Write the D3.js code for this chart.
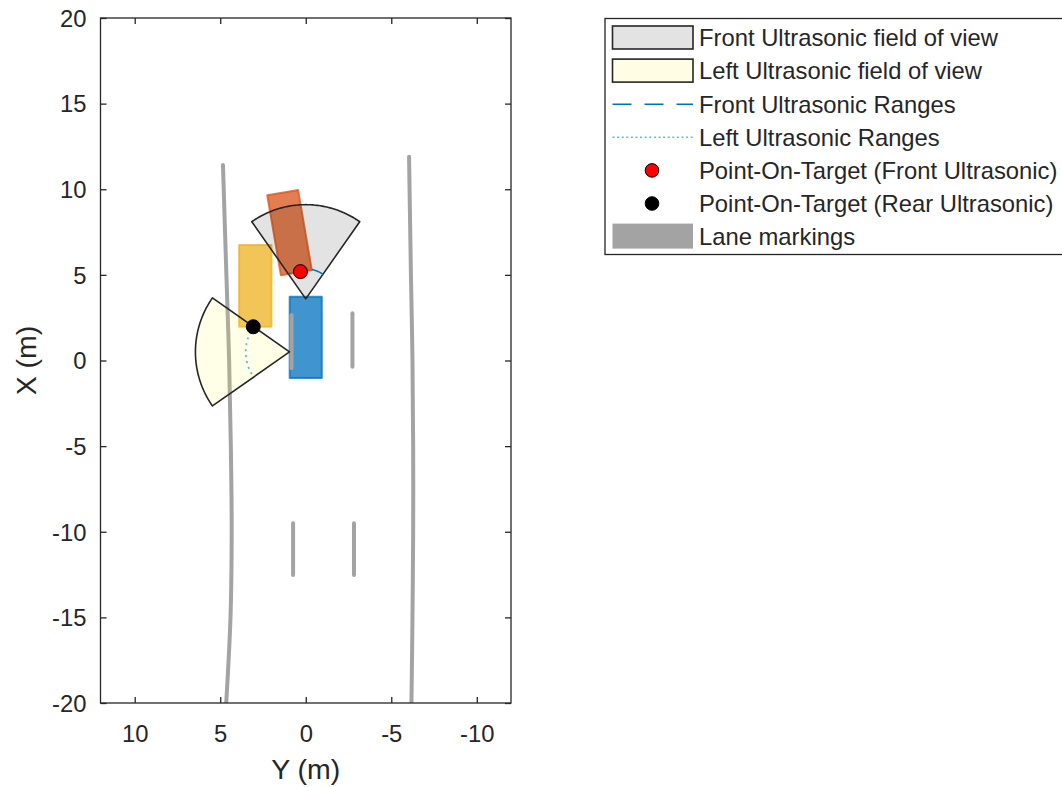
<!DOCTYPE html>
<html><head><meta charset="utf-8">
<script src="https://cdn.jsdelivr.net/npm/d3@7"></script>
<style>body{margin:0;background:#fff;} svg{display:block;font-family:"Liberation Sans",Arial,Helvetica,sans-serif;}</style>
</head><body>
<svg id="chart" width="1062" height="787"></svg>
<script>
// ---------- axis ticks ----------
const xTickValues = [20, 15, 10, 5, 0, -5, -10, -15, -20];   // longitudinal X (vertical axis)
const yTickValues = [10, 5, 0, -5, -10];                      // lateral Y (horizontal axis)
const xDomain = [-20, 20];
const yDomain = [12, -12];

// ---------- lane markings ----------
const leftBoundaryX = [11.42, 5, 0, -5, -10, -15, -20];
const leftBoundaryY = [4.84, 4.64, 4.48, 4.38, 4.33, 4.40, 4.65];
const rightBoundaryX = [11.9, 5, 0, -5, -10, -15, -20];
const rightBoundaryY = [-6.04, -6.15, -6.24, -6.28, -6.28, -6.24, -6.18];
const dashStartX = [2.66, -9.5, 2.76, -9.5];
const dashEndX = [-0.45, -12.53, -0.36, -12.53];
const dashY = [0.83, 0.74, -2.73, -2.82];

// ---------- vehicles ----------
const vehicleNames = ["Ego", "Car 1", "Car 2"];
const vehicleCenterX = [1.35, 4.36, 7.47];
const vehicleCenterY = [0.0, 2.95, 0.95];
const vehicleLength = [4.75, 4.77, 4.74];
const vehicleWidth = [1.88, 1.89, 1.83];
const vehicleYaw = [0, 0, 9.7];
const vehicleColors = ["#0072BD", "#EDB120", "#D95319"];

// ---------- ultrasonic sensors ----------
const sensorNames = ["Front Ultrasonic", "Left Ultrasonic"];
const sensorX = [3.6, 0.5];
const sensorY = [0.0, 0.95];
const sensorYaw = [0, 90];
const sensorFov = [70, 70];
const sensorMaxRange = [5.5, 5.5];
const sensorFill = ["rgb(0,0,0)", "rgb(255,245,50)"];
const sensorFillOpacity = [0.11, 0.12];
const detectedRange = [1.75, 2.56];
const rangeColors = ["#0072BD", "#4DBEEE"];
const rangeDash = ["12,5", "2,4"];

// ---------- points on target ----------
const pointNames = ["Point-On-Target (Front Ultrasonic)", "Point-On-Target (Rear Ultrasonic)"];
const pointX = [5.19, 1.97];
const pointY = [0.31, 3.07];
const pointColors = ["#FF0000", "#000000"];

// ---------- legend ----------
const legendLabels = ["Front Ultrasonic field of view", "Left Ultrasonic field of view",
  "Front Ultrasonic Ranges", "Left Ultrasonic Ranges",
  "Point-On-Target (Front Ultrasonic)", "Point-On-Target (Rear Ultrasonic)", "Lane markings"];
const legendKinds = ["patch", "patch", "line", "line", "marker", "marker", "lane"];

// ================= drawing =================
const svg = d3.select("#chart");
const plot = {left: 100.5, right: 511, top: 18, bottom: 703};
const hScale = d3.scaleLinear().domain(yDomain).range([plot.left, plot.right]);   // lateral Y -> px x
const vScale = d3.scaleLinear().domain(xDomain).range([plot.bottom, plot.top]);   // longitudinal X -> px y
const txt = "#262626";
const laneColor = "#a3a3a3";
const deg = Math.PI / 180;

const P = (X, Y) => [hScale(Y), vScale(X)];
const line = d3.line();

svg.append("defs").append("clipPath").attr("id", "clip")
  .append("rect").attr("x", plot.left).attr("y", plot.top)
  .attr("width", plot.right - plot.left).attr("height", plot.bottom - plot.top);

const g = svg.append("g").attr("clip-path", "url(#clip)");

// vehicles
vehicleNames.forEach((n, i) => {
  const c = Math.cos(vehicleYaw[i] * deg), s = Math.sin(vehicleYaw[i] * deg);
  const hl = vehicleLength[i] / 2, hw = vehicleWidth[i] / 2;
  const corners = [[hl, hw], [hl, -hw], [-hl, -hw], [-hl, hw]].map(([a, b]) =>
    P(vehicleCenterX[i] + a * c - b * s, vehicleCenterY[i] + a * s + b * c));
  g.append("path").attr("d", line(corners) + "Z")
    .attr("fill", vehicleColors[i]).attr("fill-opacity", 0.75)
    .attr("stroke", vehicleColors[i]).attr("stroke-opacity", 0.75)
    .attr("stroke-width", 2).attr("stroke-linejoin", "round");
});

// lane markings
const leftPts = leftBoundaryX.map((x, i) => P(x, leftBoundaryY[i]));
const rightPts = rightBoundaryX.map((x, i) => P(x, rightBoundaryY[i]));
const curve = d3.line().curve(d3.curveCatmullRom);
[leftPts, rightPts].forEach(pts => {
  g.append("path").attr("d", curve(pts)).attr("fill", "none")
    .attr("stroke", laneColor).attr("stroke-width", 4).attr("stroke-linecap", "round");
});
dashY.forEach((y, i) => {
  g.append("path").attr("d", line([P(dashStartX[i], y), P(dashEndX[i], y)]))
    .attr("stroke", laneColor).attr("stroke-width", 4).attr("stroke-linecap", "round");
});

// sensor fields of view
sensorNames.forEach((n, i) => {
  const pts = [P(sensorX[i], sensorY[i])];
  const half = sensorFov[i] / 2;
  for (let a = -half; a <= half + 1e-9; a += 1) {
    const t = (sensorYaw[i] + a) * deg;
    pts.push(P(sensorX[i] + sensorMaxRange[i] * Math.cos(t), sensorY[i] + sensorMaxRange[i] * Math.sin(t)));
  }
  g.append("path").attr("d", line(pts) + "Z")
    .attr("fill", sensorFill[i]).attr("fill-opacity", sensorFillOpacity[i])
    .attr("stroke", txt).attr("stroke-width", 1.6).attr("stroke-linejoin", "round");
});

// detected ranges
sensorNames.forEach((n, i) => {
  const pts = [];
  const half = sensorFov[i] / 2;
  for (let a = -half; a <= half + 1e-9; a += 1) {
    const t = (sensorYaw[i] + a) * deg;
    pts.push(P(sensorX[i] + detectedRange[i] * Math.cos(t), sensorY[i] + detectedRange[i] * Math.sin(t)));
  }
  g.append("path").attr("d", line(pts)).attr("fill", "none")
    .attr("stroke", rangeColors[i]).attr("stroke-width", i === 0 ? 1.5 : 1.8)
    .attr("stroke-dasharray", rangeDash[i]);
});

// points on target
pointNames.forEach((n, i) => {
  const [px, py] = P(pointX[i], pointY[i]);
  g.append("circle").attr("cx", px).attr("cy", py).attr("r", 7)
    .attr("fill", pointColors[i]).attr("stroke", "#000").attr("stroke-width", 1);
});

// axes
const fs = 23.8;
const gB = svg.append("g").attr("transform", `translate(0,${plot.bottom})`)
  .call(d3.axisBottom(hScale).tickValues(yTickValues).tickSizeInner(-6).tickSizeOuter(0).tickFormat(d => String(d)));
const gT = svg.append("g").attr("transform", `translate(0,${plot.top})`)
  .call(d3.axisTop(hScale).tickValues(yTickValues).tickSizeInner(-6).tickSizeOuter(0).tickFormat(""));
const gL = svg.append("g").attr("transform", `translate(${plot.left},0)`)
  .call(d3.axisLeft(vScale).tickValues(xTickValues).tickSizeInner(-6).tickSizeOuter(0).tickFormat(d => String(d)));
const gR = svg.append("g").attr("transform", `translate(${plot.right},0)`)
  .call(d3.axisRight(vScale).tickValues(xTickValues).tickSizeInner(-6).tickSizeOuter(0).tickFormat(""));
[gB, gT, gL, gR].forEach(a => {
  a.select(".domain").remove();
  a.selectAll(".tick line").attr("stroke", txt).attr("stroke-width", 1.3);
  a.selectAll("text").attr("fill", txt).style("font-size", fs + "px").style("font-family", "Liberation Sans, Arial, sans-serif");
});
gB.selectAll("text").attr("y", 31).attr("dy", "0.35em");
gL.selectAll("text").attr("x", -14).attr("dy", "0.35em");

svg.append("rect").attr("x", plot.left).attr("y", plot.top)
  .attr("width", plot.right - plot.left).attr("height", plot.bottom - plot.top)
  .attr("fill", "none").attr("stroke", txt).attr("stroke-width", 1.3);

svg.append("text").attr("x", (plot.left + plot.right) / 2).attr("y", 779)
  .attr("text-anchor", "middle").attr("fill", txt).style("font-size", "28.5px").text("Y (m)");
svg.append("text").attr("transform", `translate(36,${(plot.top + plot.bottom) / 2}) rotate(-90)`)
  .attr("text-anchor", "middle").attr("fill", txt).style("font-size", "28.5px").text("X (m)");

// legend
const lg = svg.append("g");
lg.append("rect").attr("x", 605).attr("y", 18.5).attr("width", 470).attr("height", 236)
  .attr("fill", "#fff").attr("stroke", txt).attr("stroke-width", 1.3);
const rowY0 = 38, rowStep = 33.1, swL = 612.5, swR = 693, txtX = 699;
legendLabels.forEach((lab, i) => {
  const y = rowY0 + i * rowStep;
  const k = legendKinds[i];
  if (k === "patch") {
    const fills = ["#e3e3e3", "#fffde4"];
    lg.append("rect").attr("x", swL).attr("y", y - 12).attr("width", swR - swL).attr("height", 23)
      .attr("fill", fills[i]).attr("stroke", txt).attr("stroke-width", 1.6);
  } else if (k === "line") {
    const r = i - 2;
    lg.append("line").attr("x1", swL).attr("x2", swR).attr("y1", y).attr("y2", y)
      .attr("stroke", rangeColors[r]).attr("stroke-width", r === 0 ? 1.4 : 1.6)
      .attr("stroke-dasharray", r === 0 ? "19,13" : "2,2.6");
  } else if (k === "marker") {
    const r = i - 4;
    lg.append("circle").attr("cx", 652).attr("cy", y).attr("r", 6.8)
      .attr("fill", pointColors[r]).attr("stroke", "#000").attr("stroke-width", 1);
  } else {
    lg.append("rect").attr("x", swL).attr("y", y - 13).attr("width", swR - swL).attr("height", 25)
      .attr("fill", laneColor);
  }
  lg.append("text").attr("x", txtX).attr("y", y).attr("dy", "0.35em").attr("fill", txt)
    .style("font-size", fs + "px").text(lab);
});
</script>
</body></html>
